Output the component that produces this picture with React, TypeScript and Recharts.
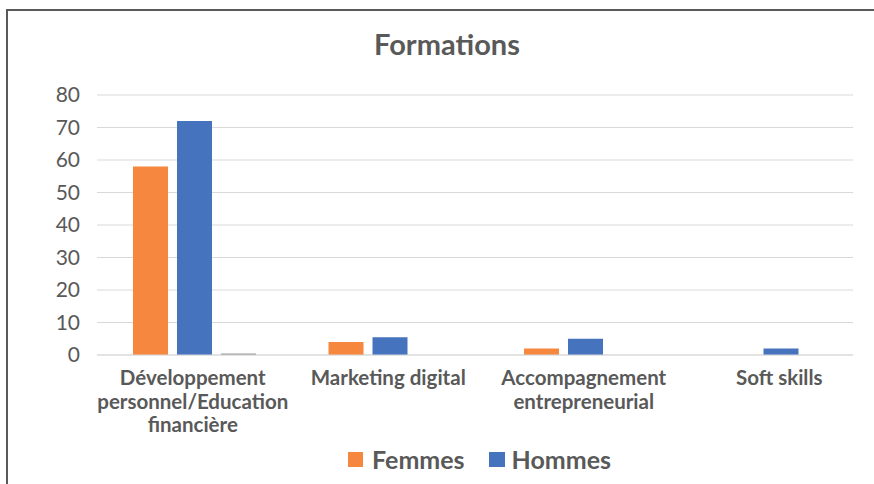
import React from "react";
import { BarChart, Bar, XAxis, YAxis, CartesianGrid } from "recharts";

// values
const categories = [
  "Développement personnel/Education financière",
  "Marketing digital",
  "Accompagnement entrepreneurial",
  "Soft skills",
];
const categoryLines = [
  ["Développement", "personnel/Education", "financière"],
  ["Marketing digital"],
  ["Accompagnement", "entrepreneurial"],
  ["Soft skills"],
];
const femmes = [58, 4, 2, 0];
const hommes = [72, 5.5, 5, 2];
const autre = [0.5, 0, 0, 0]; // small grey series, not in the legend
const yTicks = [0, 10, 20, 30, 40, 50, 60, 70, 80];

const data = categories.map((c, i) => ({
  name: c,
  Femmes: femmes[i],
  Hommes: hommes[i],
  Autre: autre[i],
}));

const FONT = "Lato, 'Open Sans', sans-serif";
const TEXT = "#595959";
const ORANGE = "#F5873F";
const BLUE = "#4673BD";
const GREY = "#9A9A9A";

function CategoryTick(props: any) {
  const { x, y, index } = props;
  const lines = categoryLines[index] || [];
  return (
    <g>
      {lines.map((l, i) => (
        <text
          key={i}
          x={x - 2}
          y={y + 22 + i * 23.5}
          textAnchor="middle"
          fill={TEXT}
          fontFamily={FONT}
          fontWeight={700}
          fontSize={20.5}
        >
          {l}
        </text>
      ))}
    </g>
  );
}

export default function App() {
  return (
    <div
      style={{
        position: "absolute",
        top: 0,
        left: 0,
        width: 874,
        height: 484,
        background: "#fff",
        overflow: "hidden",
      }}
    >
      {/* frame edge of the cropped chart box */}
      <div
        style={{
          position: "absolute",
          left: 6,
          top: 9,
          width: 900,
          height: 500,
          borderTop: "2px solid #5a5a5a",
          borderLeft: "2px solid #5a5a5a",
        }}
      />
      <div
        style={{
          position: "absolute",
          top: 26,
          left: 0,
          width: 894,
          textAlign: "center",
          fontFamily: FONT,
          fontWeight: 700,
          fontSize: 29,
          color: TEXT,
        }}
      >
        Formations
      </div>
      <div style={{ position: "absolute", top: 0, left: 0 }}>
        <BarChart
          width={874}
          height={484}
          data={data}
          margin={{ top: 95, right: 21, left: 37, bottom: 49 }}
          barSize={35}
          barGap={9}
        >
          <CartesianGrid vertical={false} stroke="#D9D9D9" />
          <XAxis
            dataKey="name"
            height={80}
            interval={0}
            padding={{ left: 0, right: -26 }}
            tickLine={false}
            axisLine={{ stroke: "#D9D9D9" }}
            tick={<CategoryTick />}
          />
          <YAxis
            width={60}
            domain={[0, 80]}
            ticks={yTicks}
            tickLine={false}
            axisLine={false}
            tickMargin={11}
            tick={{ fill: TEXT, fontSize: 21, fontFamily: FONT }}
          />
          <Bar dataKey="Femmes" fill={ORANGE} isAnimationActive={false} />
          <Bar dataKey="Hommes" fill={BLUE} isAnimationActive={false} />
          <Bar dataKey="Autre" fill={GREY} isAnimationActive={false} />
        </BarChart>
      </div>
      <div
        style={{
          position: "absolute",
          top: 444,
          left: 348,
          display: "flex",
          alignItems: "center",
          fontFamily: FONT,
          fontWeight: 700,
          fontSize: 25,
          color: TEXT,
        }}
      >
        <span style={{ width: 15, height: 15, background: ORANGE, display: "inline-block", marginRight: 9 }} />
        <span style={{ marginRight: 24 }}>Femmes</span>
        <span style={{ width: 16, height: 15, background: BLUE, display: "inline-block", marginRight: 7 }} />
        <span>Hommes</span>
      </div>
    </div>
  );
}
